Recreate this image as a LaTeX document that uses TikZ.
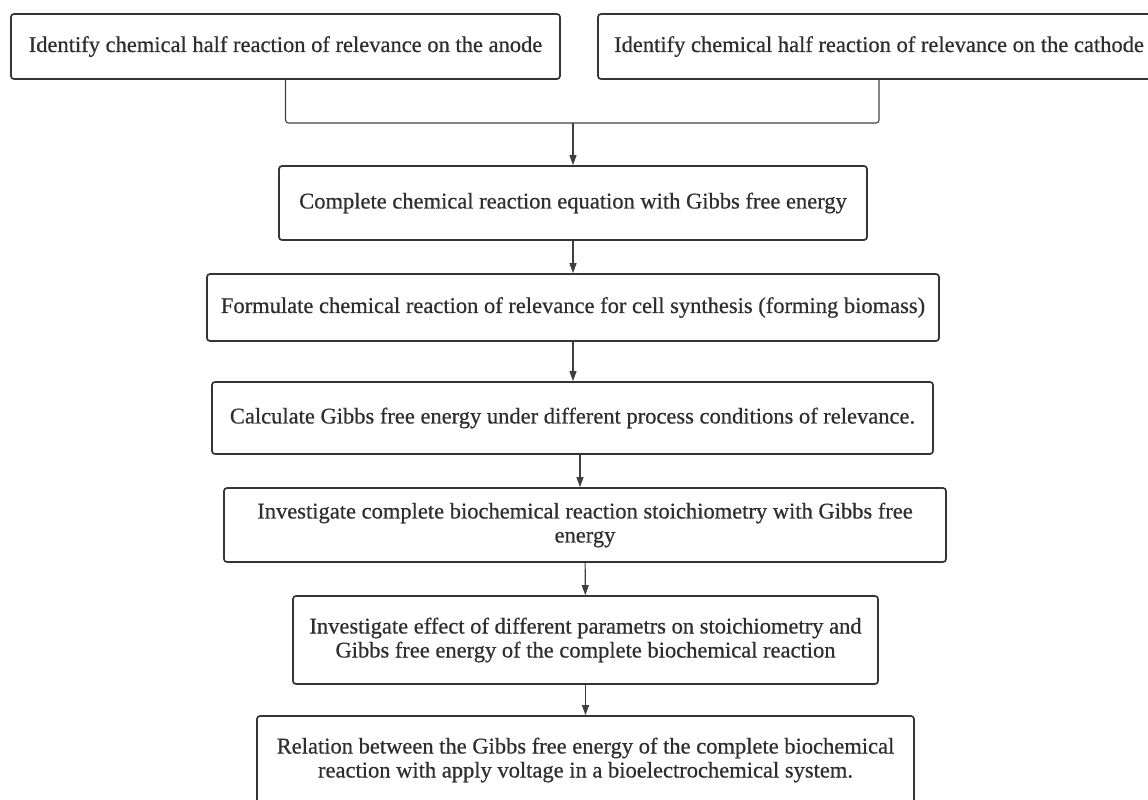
\documentclass[tikz,border=0pt]{standalone}
\usepackage{fontspec}
\setmainfont[UprightFeatures={FakeBold=0.6}]{Liberation Serif}
\usetikzlibrary{arrows.meta}
\definecolor{boxline}{HTML}{353535}
\definecolor{txt}{HTML}{2E2E2E}
\definecolor{linkgray}{HTML}{404040}

\begin{document}
\begin{tikzpicture}[x=1pt,y=-1pt,
	stage/.style={shape=rectangle,draw=boxline,line width=1.7pt,rounded corners=3pt,inner sep=0pt,align=center,text=txt,font=\fontsize{22.5}{24}\selectfont},
	link/.style={draw=linkgray,line width=1.1pt},
	arr/.style={link,-{Triangle[length=10pt,width=7pt]}}]
	\useasboundingbox (0,0) rectangle (1148,800);

	\node[stage,minimum width=549pt,minimum height=65pt] (anode)       at (285.5, 46.5) {Identify chemical half reaction of relevance on the anode};
	\node[stage,minimum width=562pt,minimum height=65pt] (cathode)     at (879, 46.5)   {Identify chemical half reaction of relevance on the cathode};
	\node[stage,minimum width=588pt,minimum height=74pt] (complete)    at (573, 203)    {Complete chemical reaction equation with Gibbs free energy};
	\node[stage,minimum width=732pt,minimum height=67pt] (formulate)   at (573, 307.5)  {Formulate chemical reaction of relevance for cell synthesis (forming biomass)};
	\node[stage,minimum width=721pt,minimum height=72pt] (calculate)   at (572.5, 418)  {Calculate Gibbs free energy under different process conditions of relevance.};
	\node[stage,minimum width=722pt,minimum height=74pt] (stoich)      at (585, 525)    {Investigate complete biochemical reaction stoichiometry with Gibbs free\\energy};
	\node[stage,minimum width=585pt,minimum height=88pt] (parameters)  at (585.5, 640)  {Investigate effect of different parametrs on stoichiometry and\\Gibbs free energy of the complete biochemical reaction};
	\node[stage,minimum width=657pt,minimum height=88pt] (voltage)     at (585.5, 760)  {Relation between the Gibbs free energy of the complete biochemical\\reaction with apply voltage in a bioelectrochemical system.};

	\coordinate (merge) at (573, 123);

	\draw[link,rounded corners=3pt] (anode.south) |- (merge);
	\draw[link,rounded corners=3pt] (cathode.south) |- (merge);
	\draw[arr] (merge) -- (complete.north);
	\draw[arr] (complete) -- (formulate);
	\draw[arr] (formulate.south) -- (calculate.north -| formulate.south);
	\draw[arr] ([xshift=7.5pt]calculate.south) -- ([xshift=-5pt]stoich.north);
	\draw[arr] (stoich) -- (parameters);
	\draw[arr] (parameters) -- (voltage);

\end{tikzpicture}
\end{document}
